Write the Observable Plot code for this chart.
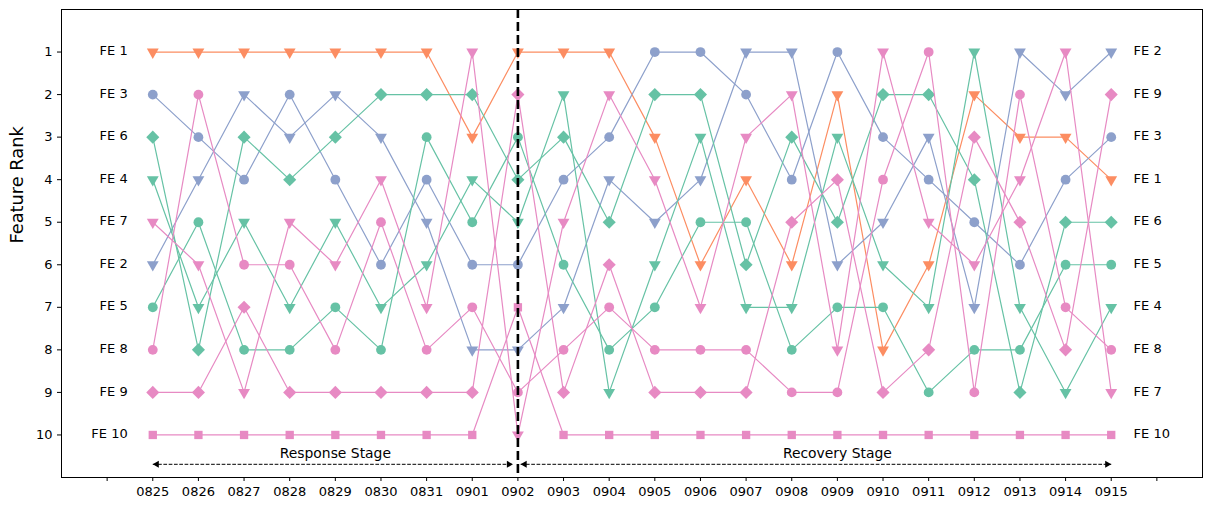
<!DOCTYPE html>
<html><head><meta charset="utf-8">
<script src="https://cdn.jsdelivr.net/npm/d3@7"></script>
<script src="https://cdn.jsdelivr.net/npm/@observablehq/plot@0.6"></script>
<style>body{margin:0;background:#fff;} svg{display:block;}</style>
</head><body><div id="chart"></div>
<script>
const dates = ["0825","0826","0827","0828","0829","0830","0831","0901","0902","0903","0904","0905","0906","0907","0908","0909","0910","0911","0912","0913","0914","0915"];
const features = ["FE 1","FE 2","FE 3","FE 4","FE 5","FE 6","FE 7","FE 8","FE 9","FE 10"];
const FE1  = [1,1,1,1,1,1,1,3,1,1,1,3,6,4,6,2,8,6,2,3,3,4];
const FE2  = [6,4,2,3,2,3,5,8,8,7,4,5,4,1,1,6,5,3,7,1,2,1];
const FE3  = [2,3,4,2,4,6,4,6,6,4,3,1,1,2,4,1,3,4,5,6,4,3];
const FE4  = [4,7,5,7,5,7,6,4,5,2,9,6,3,7,7,3,6,7,1,7,9,7];
const FE5  = [7,5,8,8,7,8,3,5,3,6,8,7,5,5,8,7,7,9,8,8,6,6];
const FE6  = [3,8,3,4,3,2,2,2,4,3,5,2,2,6,3,5,2,2,4,9,5,5];
const FE7  = [5,6,9,5,6,4,7,1,10,5,2,4,7,3,2,8,1,5,6,4,1,9];
const FE8  = [8,2,6,6,8,5,8,7,9,8,7,8,8,8,9,9,4,1,9,2,7,8];
const FE9  = [9,9,7,9,9,9,9,9,2,9,6,9,9,9,5,4,9,8,3,5,8,2];
const FE10 = [10,10,10,10,10,10,10,10,7,10,10,10,10,10,10,10,10,10,10,10,10,10];
const rankSeries = [FE1,FE2,FE3,FE4,FE5,FE6,FE7,FE8,FE9,FE10];
const featureColors = ["#fc8d62","#8da0cb","#8da0cb","#66c2a5","#66c2a5","#66c2a5","#e78ac3","#e78ac3","#e78ac3","#e78ac3"];
const featureMarkers = ["down","down","circle","down","circle","diamond","down","circle","diamond","square"];
const rankTicks = [1,2,3,4,5,6,7,8,9,10];
const stageLabels = ["Response Stage","Recovery Stage"];
const stageCenters = [4, 15];
const splitDate = "0902";

const symbolOf = {down: "triangle", circle: "circle", diamond: "diamond2", square: "square"};
const sizeOf = {down: 4.4, circle: 4.9, diamond: 5.9, square: 4.7};
const splitIdx = dates.indexOf(splitDate);
const font = "DejaVu Sans, sans-serif";

const marks = [];
features.forEach((f, k) => {
  const rows = rankSeries[k].map((r, i) => ({i, r, f}));
  const m = featureMarkers[k];
  marks.push(Plot.line(rows, {x: "i", y: "r", stroke: featureColors[k], strokeWidth: 1.2}));
  marks.push(Plot.dot(rows, {
    x: "i", y: "r", fill: featureColors[k], stroke: "none",
    symbol: () => symbolOf[m],
    r: sizeOf[m],
    rotate: m === "down" ? 180 : 0
  }));
});

// feature labels on both sides
const leftLabels = features.map((f, k) => ({f, r: rankSeries[k][0]}));
const rightLabels = features.map((f, k) => ({f, r: rankSeries[k][dates.length - 1]}));
marks.push(Plot.text(leftLabels, {x: () => -0.55, y: "r", text: "f", textAnchor: "end", fontSize: 13, fill: "black", dy: -1}));
marks.push(Plot.text(rightLabels, {x: () => dates.length - 1 + 0.49, y: "r", text: "f", textAnchor: "start", fontSize: 13, fill: "black", dy: -1}));

// split line
marks.push(Plot.ruleX([splitIdx], {stroke: "black", strokeWidth: 2.6, strokeDasharray: "9,4"}));

// stage arrows
const arrowY = 10.69;
const spans = [[0, splitIdx - 0.11], [splitIdx + 0.06, dates.length - 1]];
marks.push(Plot.link(spans, {x1: d => d[0], x2: d => d[1], y1: () => arrowY, y2: () => arrowY, stroke: "black", strokeWidth: 1, strokeDasharray: "3.7,1.6"}));
marks.push(Plot.dot(spans, {x: d => d[0], y: () => arrowY, symbol: "triangle", rotate: -90, r: 2.6, fill: "black", stroke: "none", dx: 4}));
marks.push(Plot.dot(spans, {x: d => d[1], y: () => arrowY, symbol: "triangle", rotate: 90, r: 2.6, fill: "black", stroke: "none", dx: -4}));
marks.push(Plot.text(stageLabels, {x: (d, i) => stageCenters[i], y: () => 10.43, text: d => d, fontSize: 13.9, fill: "black"}));

marks.push(Plot.text(["Feature Rank"], {frameAnchor: "left", dx: -44, rotate: -90, fontSize: 17.8, fill: "black"}));
marks.push(Plot.frame({stroke: "black", strokeWidth: 1}));
marks.push(Plot.axisX({ticks: d3.range(-1, dates.length + 1), tickFormat: i => dates[i] ?? "", tickSize: 4, tickPadding: 5, fontSize: 13, label: null, stroke: "black", color: "black"}));
marks.push(Plot.axisY({ticks: rankTicks, tickFormat: d => String(d), tickSize: 4, tickPadding: 5, fontSize: 13, label: null, stroke: "black", color: "black"}));

const chart = Plot.plot({
  width: 1211, height: 511,
  marginLeft: 61, marginRight: 9, marginTop: 9, marginBottom: 34,
  style: {fontFamily: font, background: "white", color: "black"},
  x: {type: "linear", domain: [-2, dates.length + 1]},
  y: {type: "linear", domain: [0, 11], reverse: true},
  marks
});
document.getElementById("chart").appendChild(chart);
</script>
</body></html>
